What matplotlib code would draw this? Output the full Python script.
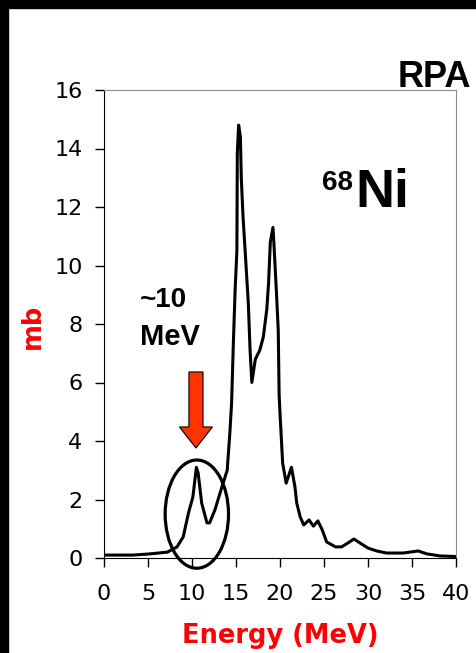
import matplotlib
matplotlib.use('Agg')
import matplotlib.pyplot as plt
from matplotlib.patches import Ellipse, FancyArrow, Rectangle
import numpy as np

# strength function (energy in MeV, cross section in mb)
energy = [0.0, 3.3, 5.2, 7.2, 8.3, 9.0, 9.6, 10.1, 10.5, 10.7, 11.1, 11.7, 12.0,
          12.6, 13.4, 14.0, 14.3, 14.5, 14.7, 14.9, 15.1, 15.15, 15.3, 15.5, 15.6,
          15.8, 16.1, 16.4, 16.6, 16.8, 17.2, 17.7, 18.1, 18.5, 18.7, 18.9, 19.2,
          19.3, 19.6, 19.8, 19.9, 20.0, 20.3, 20.7, 21.3, 21.7, 21.9, 22.3, 22.7,
          23.3, 23.8, 24.3, 24.8, 25.3, 26.3, 27.0, 27.7, 28.4, 29.1, 30.0, 31.0,
          32.1, 34.0, 35.7, 36.7, 38.2, 40.0]
sigma = [0.1, 0.1, 0.14, 0.2, 0.38, 0.72, 1.54, 2.09, 3.1, 2.9, 1.88, 1.2, 1.2,
         1.64, 2.43, 3.0, 4.27, 5.3, 7.35, 9.16, 10.5, 13.85, 14.8, 14.4, 13.0,
         11.66, 10.2, 8.7, 7.1, 6.0, 6.8, 7.1, 7.55, 8.5, 9.4, 10.8, 11.3,
         10.8, 9.05, 7.8, 5.6, 4.95, 3.25, 2.56, 3.1, 2.43, 1.88, 1.4, 1.13,
         1.3, 1.09, 1.27, 0.96, 0.55, 0.38, 0.38, 0.51, 0.65, 0.51, 0.34, 0.24,
         0.17, 0.17, 0.24, 0.14, 0.07, 0.05]

xticks = [0, 5, 10, 15, 20, 25, 30, 35, 40]
yticks = [0, 2, 4, 6, 8, 10, 12, 14, 16]

W, H = 476, 653
fig = plt.figure(figsize=(W / 100, H / 100), dpi=100)
fig.patch.set_facecolor('white')

def px(x, y):
    return x / W, 1 - y / H

# black slide frame on the top and left edges
fig.patches.append(Rectangle((0, 1 - 8 / H), 1, 8 / H, transform=fig.transFigure,
                             color='black', zorder=0))
fig.patches.append(Rectangle((0, 0), 8 / W, 1, transform=fig.transFigure,
                             color='black', zorder=0))

ax = fig.add_axes([104 / W, 1 - 558 / H, (456 - 104) / W, (558 - 90) / H])
ax.plot(energy, sigma, color='black', lw=2.2, solid_joinstyle='round')

ax.set_xlim(0, 40)
ax.set_ylim(0, 16)
ax.set_xticks(xticks)
ax.set_yticks(yticks)
ax.tick_params(axis='both', direction='out', length=6.5, width=1, labelsize=16,
               colors='black')
ax.tick_params(axis='x', pad=12)
ax.tick_params(axis='y', pad=9)
for s in ['top', 'right']:
    ax.spines[s].set_color('#8c8c8c')
for s in ['left', 'bottom']:
    ax.spines[s].set_color('black')

# circle round the low-lying peak and the red arrow pointing at it
ax.add_patch(Ellipse((10.55, 1.5), 7.2, 3.7, fill=False, ec='black', lw=2.3,
                     clip_on=False, zorder=5))
ax.add_patch(FancyArrow(10.45, 6.36, 0, -2.6, width=1.6, head_width=3.75,
                        head_length=0.72, length_includes_head=True,
                        fc='#ff3300', ec='black', lw=0.8, clip_on=False, zorder=6))

arial = 'Liberation Sans'
fig.text(*px(140, 307), '~10', fontsize=20, fontweight='bold', family=arial,
         va='baseline')
fig.text(*px(140, 345), 'MeV', fontsize=21, fontweight='bold', family=arial,
         va='baseline')
fig.text(*px(322, 190), '68', fontsize=20, fontweight='bold', family=arial,
         va='baseline')
fig.text(*px(355, 207), 'Ni', fontsize=39, fontweight='bold', family=arial,
         va='baseline')
fig.text(*px(398, 87), 'RPA', fontsize=26, fontweight='bold', family=arial,
         va='baseline')

fig.text(*px(280, 643), 'Energy (MeV)', fontsize=18.5, fontweight='bold',
         color='red', ha='center', va='baseline')
fig.text(*px(33, 326), 'mb', fontsize=18.5, fontweight='bold', color='red',
         rotation=90, ha='center', va='center')

fig.savefig('out.png', dpi=100)
